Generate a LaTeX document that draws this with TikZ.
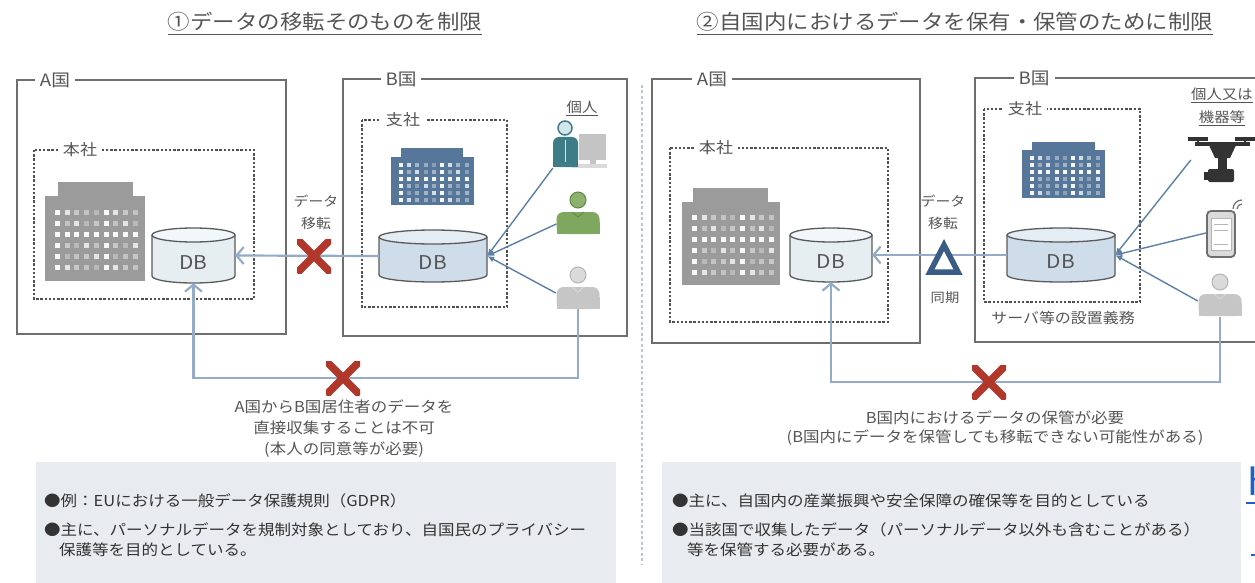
\documentclass[tikz,border=0pt]{standalone}
\usepackage{fontspec}
\setmainfont{Noto Sans CJK JP}[FakeStretch=1.1]
\usetikzlibrary{arrows.meta}

\definecolor{boxgray}{HTML}{6E6E6E}
\definecolor{dashgray}{HTML}{505050}
\definecolor{txtgray}{HTML}{555555}
\definecolor{notetext}{HTML}{333333}
\definecolor{bldgray}{HTML}{9B9B9B}
\definecolor{bldblue}{HTML}{56779A}
\definecolor{dbline}{HTML}{5A5A5A}
\definecolor{dbfillA}{HTML}{E6EEF2}
\definecolor{dbtopA}{HTML}{F2F7FA}
\definecolor{dbfillB}{HTML}{CFDCEA}
\definecolor{dbtopB}{HTML}{E4ECF4}
\definecolor{flowblue}{HTML}{94ABC8}
\definecolor{feedblue}{HTML}{5B7FA5}
\definecolor{xred}{HTML}{B2372B}
\definecolor{syncblue}{HTML}{3B5D85}
\definecolor{panelfill}{HTML}{E8EBEF}
\definecolor{divblue}{HTML}{B8C8DC}
\definecolor{persgray}{HTML}{C6C6C6}
\definecolor{headgray}{HTML}{DADADA}
\definecolor{headline}{HTML}{B5B5B5}
\definecolor{persgreen}{HTML}{7FA75F}
\definecolor{headgreen}{HTML}{8DB26E}
\definecolor{linegreen}{HTML}{5F8A45}
\definecolor{persteal}{HTML}{3E7D88}
\definecolor{headteal}{HTML}{D3E6E9}
\definecolor{monitor}{HTML}{C4C4C4}
\definecolor{devdark}{HTML}{333333}
\definecolor{linkblue}{HTML}{1F5FCC}

\newcommand\fs[1]{\fontsize{#1}{#1}\selectfont}
\newcommand\fsl[2]{\fontsize{#1}{#2}\selectfont}

% office windows: x0, y0, dx, dy, w, h
\newcommand\windowgrid[6]{%
  \foreach \i in {0,...,8}{\foreach \j in {0,...,5}{%
    \pgfmathtruncatemacro\k{mod(3*\i+5*\j+\i*\j,5)}%
    \ifcase\k \def\op{0.95}\or\def\op{0.45}\or\def\op{0.3}\or\def\op{0.75}\else\def\op{0.4}\fi
    \fill[white, opacity=\op] (#1+\i*#3,#2+\j*#4) rectangle ++(#5,#6);
  }}}

% database cylinder: name, centre x, top, bottom, half width, body fill, top fill
\newcommand\dbcyl[7]{%
  \fill[#6] (#2-#5,#3+7) -- (#2-#5,#4-7) arc[start angle=180,end angle=0,x radius=#5,y radius=7] -- (#2+#5,#3+7) -- cycle;
  \draw[dbline, line width=1.3pt] (#2-#5,#3+7) -- (#2-#5,#4-7) arc[start angle=180,end angle=0,x radius=#5,y radius=7] -- (#2+#5,#3+7);
  \filldraw[fill=#7, draw=dbline, line width=1.3pt] (#2,#3+7) ellipse[x radius=#5, y radius=7];
  \node[inner sep=0pt, minimum width=2*#5 pt, minimum height=#4-#3 pt] (#1) at (#2,{(#3+#4)/2}) {};
  \node[dblabel] at ([yshift=-7pt]#1.center) {DB};
}

\tikzset{
  country/.style={draw=boxgray, line width=1.5pt},
  clabel/.style={fill=white, text=txtgray, inner xsep=5pt, inner ysep=1pt, font=\fs{17}},
  office/.style={draw=dashgray, line width=1.2pt, dash pattern=on 2.4pt off 1.8pt},
  olabel/.style={fill=white, text=txtgray, inner xsep=5pt, inner ysep=1pt, font=\fs{15.5}},
  title/.style={text=txtgray, font=\fs{20.4}, inner sep=0pt},
  dblabel/.style={text=txtgray, font=\fs{19}},
  flow/.style={draw=flowblue, line width=2.2pt},
  flowarrow/.style={flow, -{Straight Barb[length=7pt,width=17pt,line width=2.2pt]}},
  feed/.style={draw=feedblue, line width=1.4pt, -{Latex[length=7pt,width=6pt]}},
  nox/.style={minimum size=34pt, inner sep=0pt, path picture={
    \draw[draw=xred, line width=7.5pt]
      (path picture bounding box.north west) -- (path picture bounding box.south east)
      (path picture bounding box.north east) -- (path picture bounding box.south west);}},
  tri/.style={draw=syncblue, fill=white, line width=5.5pt, line join=miter},
  icon/.style={inner sep=0pt},
  captext/.style={text=txtgray, align=center},
  note/.style={text=notetext, anchor=west, inner sep=0pt, font=\fs{15}},
  panel/.style={fill=panelfill},
  divider/.style={draw=divblue, line width=1.2pt, dash pattern=on 3pt off 2.5pt},
  pics/person/.style n args={4}{code={
    \fill[#1, rounded corners=7pt] (-21.5,12) rectangle (21.5,34);
    \fill[#1] (-21.5,22) rectangle (21.5,34);
    \draw[#4, line width=0.8pt] (-6,12) -- (0,17) -- (6,12);
    \filldraw[fill=#2, draw=#3, line width=1pt] (0,0) circle[radius=8];
  }},
}

\begin{document}
\begin{tikzpicture}[x=1pt,y=-1pt]
\useasboundingbox (0,0) rectangle (1255,583);

% ---------------- headings ----------------
\node[title] (t1) at (325,22) {①データの移転そのものを制限};
\draw[txtgray, line width=1pt] ([yshift=-3pt]t1.south west) -- ([yshift=-3pt]t1.south east);
\node[title] (t2) at (955,22) {②自国内におけるデータを保有・保管のために制限};
\draw[txtgray, line width=1pt] ([yshift=-3pt]t2.south west) -- ([yshift=-3pt]t2.south east);

% ---------------- divider ----------------
\draw[divider] (642,85) -- (642,565);

% ================= panel 1 =================
\draw[country] (17,80) rectangle (286,334);
\node[clabel] (cA1) at (55,80) {A国};
\draw[country] (343,79) rectangle (627,336);
\node[clabel] (cB1) at (401,79) {B国};

\draw[office] (34,150) rectangle (254,299);
\node[olabel] (hq1) at (80,150) {本社};
\draw[office] (362,120) rectangle (507,307);
\node[olabel] (br1) at (403,120) {支社};

% head office building
\fill[bldgray] (58,182) rectangle (133,197);
\fill[bldgray] (45,196) rectangle (145,281);
\windowgrid{55}{210}{9.7}{11}{5}{5}
% branch building
\fill[bldblue] (401,148) rectangle (463,158);
\fill[bldblue] (391,157) rectangle (474,205);
\windowgrid{399}{163}{8.2}{7}{4}{3.5}

\dbcyl{dbA}{193.5}{228}{283}{41.5}{dbfillA}{dbtopA}
\dbcyl{dbB}{433}{230}{282}{54}{dbfillB}{dbtopB}

% individuals
\node[text=txtgray, font=\fs{14}, inner sep=0pt] (ind1) at (582,107) {個人};
\draw[txtgray, line width=0.9pt] ([yshift=-2pt]ind1.south west) -- ([yshift=-2pt]ind1.south east);

\node[icon, minimum width=54pt, minimum height=36pt] (p1) at (580,150) {};
\fill[monitor] (579,134) rectangle (606,160);
\fill[monitor] (590,160) rectangle (596,166);
\fill[headgray] (572,164) rectangle (607,168);
\fill[persteal, rounded corners=6pt] (553,137) rectangle (578,167);
\fill[persteal] (553,150) rectangle (578,167);
\draw[headteal, line width=1pt] (565,140) -- (565,162);
\filldraw[fill=headteal, draw=persteal, line width=1.5pt] (565,128) circle[radius=7];

\node[icon, minimum width=43pt, minimum height=28pt] (p2) at (578,224) {};
\pic at (578,200) {person={persgreen}{headgreen}{linegreen}{linegreen}};

\node[icon, minimum width=44pt, minimum height=32pt] (p3) at (578,293) {};
\pic at (578,275) {person={persgray}{headgray}{headline}{headgray}};

% transfers
\draw[feed] (p1.south west) -- (dbB.east);
\draw[feed] (p2.west) -- (dbB.east);
\draw[feed] (p3.west) -- (dbB.east);

\draw[flowarrow] (dbB.west) -- (dbA.east);
\node[nox] (xTop1) at (314,256) {};
\node[captext, font=\fsl{13.5}{22}] (mv1) at (316,212) {データ\\移転};

\coordinate (xl) at (343,378);
\draw[flowarrow] (p3.south) |- (xl) -| (dbA.south);
\node[nox] (xBot1) at (xl) {};

\node[captext, font=\fsl{15}{21}] (cap1) at (344,429)
  {A国からB国居住者のデータを\\直接収集することは不可\\(本人の同意等が必要)};

\fill[panel] (36,462) rectangle (616,590);
\node[note] (n11) at (44,501) {●例：EUにおける一般データ保護規則（GDPR）};
\node[note] (n12) at (44,530) {●主に、パーソナルデータを規制対象としており、自国民のプライバシー};
\node[note] (n13) at (59,550) {保護等を目的としている。};

% ================= panel 2 =================
\draw[country] (652,79) rectangle (920,343);
\node[clabel] (cA2) at (712,79) {A国};
\draw[country] (975,78) rectangle (1275,342);
\node[clabel] (cB2) at (1034,78) {B国};

\draw[office] (670,148) rectangle (888,322);
\node[olabel] (hq2) at (716,148) {本社};
\draw[office] (984,109) rectangle (1140,302);
\node[olabel] (br2) at (1025,109) {支社};
\node[text=txtgray, font=\fs{14.5}, inner sep=0pt] (srv) at (1063,318) {サーバ等の設置義務};

\fill[bldgray] (693,188) rectangle (768,203);
\fill[bldgray] (682,202) rectangle (780,285);
\windowgrid{692}{215}{9.6}{11}{5}{5}
\fill[bldblue] (1032,142) rectangle (1095,151);
\fill[bldblue] (1022,150) rectangle (1105,198);
\windowgrid{1030}{156}{8.2}{7}{4}{3.5}

\dbcyl{dbA2}{831}{228}{282}{41}{dbfillA}{dbtopA}
\dbcyl{dbB2}{1061}{228}{282}{54}{dbfillB}{dbtopB}

% individuals or devices
\node[text=txtgray, font=\fs{14}, inner sep=0pt] (ind2a) at (1222,94) {個人又は};
\draw[txtgray, line width=0.9pt] ([yshift=-2pt]ind2a.south west) -- ([yshift=-2pt]ind2a.south east);
\node[text=txtgray, font=\fs{14}, inner sep=0pt] (ind2b) at (1222,117) {機器等};
\draw[txtgray, line width=0.9pt] ([yshift=-2pt]ind2b.south west) -- ([yshift=-2pt]ind2b.south east);

% drone
\node[icon, minimum width=62pt, minimum height=44pt] (drone) at (1222,160) {};
\draw[devdark, line width=3pt] (1195,144) -- (1250,144);
\draw[devdark, line width=3.5pt] (1188,139) -- (1208,139) (1235,139) -- (1255,139);
\draw[devdark, line width=2.5pt] (1198,139) -- (1198,145) (1245,139) -- (1245,145);
\fill[devdark] (1208,143) -- (1237,143) -- (1230,158) -- (1215,158) -- cycle;
\fill[devdark] (1218,157) rectangle (1227,170);
\fill[devdark, rounded corners=2pt] (1208,169) rectangle (1234,182);
\fill[devdark] (1204,172) rectangle (1209,180);

% phone
\node[icon, minimum width=30pt, minimum height=47pt] (phone) at (1221,233) {};
\filldraw[fill=headgray, draw=boxgray, line width=1.8pt, rounded corners=4pt] (1207,211) rectangle (1235,257);
\filldraw[fill=white, draw=headline, line width=0.8pt] (1211,218) rectangle (1231,250);
\draw[headline, line width=1pt] (1214,224) -- (1228,224) (1214,230) -- (1228,230) (1214,244) -- (1228,244);
\draw[boxgray, line width=1.2pt] (1237,209) arc[start angle=180, end angle=270, radius=5];
\draw[boxgray, line width=1.2pt] (1233,209) arc[start angle=180, end angle=270, radius=9];

\node[icon, minimum width=44pt, minimum height=32pt] (q3) at (1220,301) {};
\pic at (1220,282) {person={persgray}{headgray}{headline}{headgray}};

\draw[feed] (drone.west) -- (dbB2.east);
\draw[feed] (phone.west) -- (dbB2.east);
\draw[feed] (q3.west) -- (dbB2.east);

% synchronisation
\draw[flowarrow] (dbB2.west) -- (dbA2.east);
\node[icon, minimum width=36pt, minimum height=38pt] (sync) at (944,256) {};
\draw[tri] ([shift={(0,-11)}]sync.center) -- ([shift={(-14,16)}]sync.center) -- ([shift={(14,16)}]sync.center) -- cycle;
\node[captext, font=\fsl{13.5}{22}] (mv2) at (943,212) {データ\\移転};
\node[captext, font=\fs{13}] (syn) at (945,298) {同期};

\coordinate (xr) at (989,382);
\draw[flowarrow] (q3.south) |- (xr) -| (dbA2.south);
\node[nox] (xBot2) at (xr) {};

\node[captext, font=\fsl{15}{19}] (cap2) at (995,428)
  {B国内におけるデータの保管が必要\\(B国内にデータを保管しても移転できない可能性がある)};

\fill[panel] (662,462) rectangle (1241,590);
\node[note] (n21) at (672,501) {●主に、自国内の産業振興や安全保障の確保等を目的としている};
\node[note] (n22) at (672,530) {●当該国で収集したデータ（パーソナルデータ以外も含むことがある）};
\node[note] (n23) at (687,550) {等を保管する必要がある。};

% link fragment at the right edge
\node[text=linkblue, font=\fs{36}, inner sep=0pt, anchor=base west] (lnk) at (1247,495) {h};
\draw[linkblue, line width=1.5pt] (1246,503) -- (1258,503);
\draw[linkblue, line width=1.5pt] (1251,555) -- (1258,555);
\end{tikzpicture}
\end{document}
